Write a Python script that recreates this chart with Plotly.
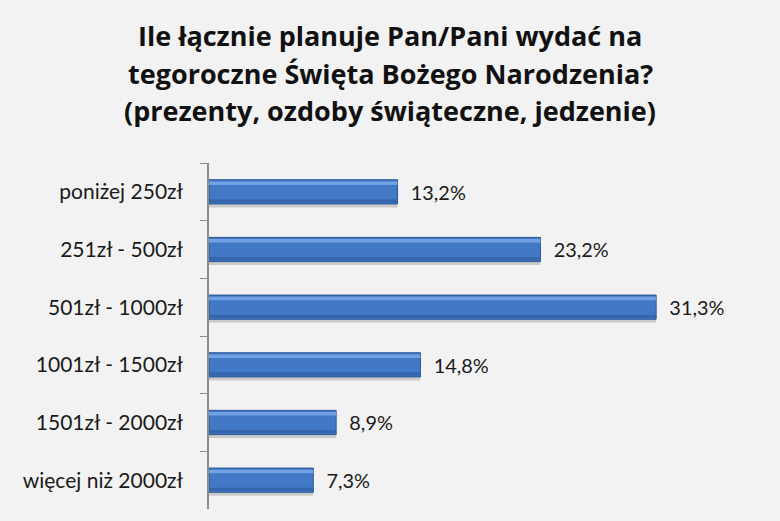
import plotly.graph_objects as go

# dane z wykresu
kategorie = ['poniżej 250zł', '251zł - 500zł', '501zł - 1000zł',
             '1001zł - 1500zł', '1501zł - 2000zł', 'więcej niż 2000zł']
procent = [13.2, 23.2, 31.3, 14.8, 8.9, 7.3]
tytul = ['Ile łącznie planuje Pan/Pani wydać na',
         'tegoroczne Święta Bożego Narodzenia?',
         '(prezenty, ozdoby świąteczne, jedzenie)']

W = 0.42  # grubosc slupka (w jednostkach kategorii)

fig = go.Figure()

# cien pod slupkami
fig.add_trace(go.Bar(y=kategorie, x=procent, orientation='h',
                     width=W, offset=-W/2 + 0.06,
                     marker=dict(color='rgba(0,0,0,0.16)', line_width=0),
                     hoverinfo='skip'))
# glowny slupek
fig.add_trace(go.Bar(y=kategorie, x=procent, orientation='h',
                     width=W, offset=-W/2,
                     marker=dict(color='#4279c6', line=dict(color='#2c5793', width=1)),
                     texttemplate='\u00a0\u00a0%{x:.1f}%', textposition='outside',
                     textfont=dict(size=23, color='#1a1a1a', family='Lato'),
                     cliponaxis=False))
# jasny pasek u gory (efekt gradientu)
fig.add_trace(go.Bar(y=kategorie, x=procent, orientation='h',
                     width=0.06, offset=-W/2 + 0.03,
                     marker=dict(color='#72a1e3', line_width=0),
                     hoverinfo='skip'))
# ciemniejszy dol
fig.add_trace(go.Bar(y=kategorie, x=procent, orientation='h',
                     width=0.06, offset=W/2 - 0.08,
                     marker=dict(color='#3566ad', line_width=0),
                     hoverinfo='skip'))

# tytul - kazda linia osobno, zeby zachowac odstepy
gora, dol = 163, 509
for linia, py in zip(tytul, [35, 73, 110]):
    fig.add_annotation(text=linia, xref='paper', yref='paper',
                       x=0.5 - (209 - 71) / 2 / 500, xanchor='center',
                       y=(dol - py) / (dol - gora), yanchor='middle',
                       showarrow=False,
                       font=dict(size=27, family='Open Sans', weight='bold', color='#111111'))

fig.update_layout(
    width=780, height=521,
    barmode='overlay',
    separators=', ',
    showlegend=False,
    paper_bgcolor='#f2f2f2', plot_bgcolor='#f2f2f2',
    margin=dict(l=209, r=71, t=163, b=12),
    font=dict(family='Lato', color='#1a1a1a'),
)
fig.update_xaxes(range=[0, 35], visible=False)
fig.update_yaxes(categoryorder='array', categoryarray=kategorie, autorange='reversed',
                 showline=True, linecolor='#8c8c8c', linewidth=1.5,
                 ticks='outside', ticklen=7, tickcolor='#8c8c8c', tickson='boundaries',
                 showgrid=False, ticklabelstandoff=20,
                 tickfont=dict(size=21, family='Lato', color='#1a1a1a'))

fig.write_html('out.html', config={'displayModeBar': False},
               post_script="document.body.style.margin='0';"
                           "document.body.style.background='#f2f2f2';")
